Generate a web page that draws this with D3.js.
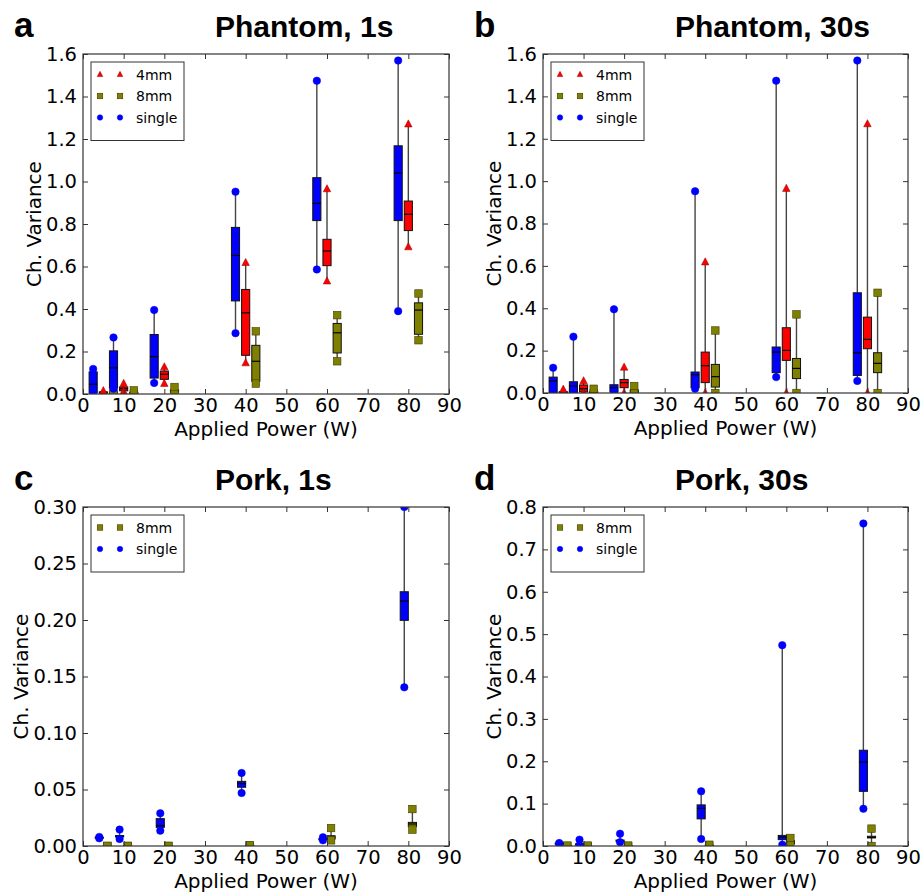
<!DOCTYPE html>
<html>
<head>
<meta charset="utf-8">
<script src="https://cdn.jsdelivr.net/npm/d3@7"></script>
<style>
  html, body { margin: 0; padding: 0; background: #fff; }
  svg { display: block; }
</style>
</head>
<body>
<svg id="chart" width="921" height="892"></svg>
<script>
// ---------------- DATA ----------------
// Each entry: [min, q1, median, q3, max] per applied power
const powers = [5, 10, 20, 40, 60, 80];
const xTicks = [0, 10, 20, 30, 40, 50, 60, 70, 80, 90];

// Panel a: Phantom, 1s
const phantom1s_4mm = [
  [0.002, 0.004, 0.008, 0.010, 0.015],
  [0.012, 0.015, 0.025, 0.033, 0.049],
  [0.049, 0.069, 0.093, 0.108, 0.127],
  [0.146, 0.182, 0.382, 0.492, 0.618],
  [0.531, 0.604, 0.673, 0.728, 0.965],
  [0.692, 0.769, 0.846, 0.908, 1.270]
];
const phantom1s_8mm = [
  [0.001, 0.003, 0.006, 0.009, 0.012],
  [0.001, 0.002, 0.005, 0.008, 0.017],
  [0.004, 0.008, 0.017, 0.020, 0.033],
  [0.049, 0.060, 0.154, 0.229, 0.295],
  [0.154, 0.193, 0.288, 0.332, 0.371],
  [0.253, 0.281, 0.395, 0.429, 0.473]
];
const phantom1s_single = [
  [0.004, 0.006, 0.046, 0.104, 0.118],
  [0.025, 0.030, 0.123, 0.203, 0.266],
  [0.052, 0.075, 0.176, 0.280, 0.395],
  [0.286, 0.438, 0.652, 0.784, 0.952],
  [0.586, 0.816, 0.897, 1.018, 1.474],
  [0.390, 0.816, 1.040, 1.168, 1.569]
];

// Panel b: Phantom, 30s
const phantom30s_4mm = [
  [0.000, 0.002, 0.004, 0.006, 0.017],
  [0.000, 0.005, 0.020, 0.038, 0.057],
  [0.000, 0.025, 0.049, 0.064, 0.121],
  [0.000, 0.049, 0.129, 0.193, 0.618],
  [0.000, 0.154, 0.201, 0.308, 0.965],
  [0.000, 0.209, 0.253, 0.358, 1.270]
];
const phantom30s_8mm = [
  [0.000, 0.002, 0.005, 0.010, 0.020],
  [0.000, 0.001, 0.003, 0.006, 0.020],
  [0.000, 0.002, 0.008, 0.014, 0.033],
  [0.000, 0.028, 0.077, 0.135, 0.295],
  [0.000, 0.068, 0.116, 0.163, 0.371],
  [0.000, 0.096, 0.140, 0.190, 0.473]
];
const phantom30s_single = [
  [0.000, 0.002, 0.057, 0.075, 0.119],
  [0.000, 0.008, 0.033, 0.053, 0.266],
  [0.000, 0.005, 0.025, 0.039, 0.395],
  [0.020, 0.025, 0.086, 0.099, 0.952],
  [0.075, 0.096, 0.193, 0.217, 1.474],
  [0.057, 0.083, 0.190, 0.473, 1.569]
];

// Panel c: Pork, 1s
const pork1s_8mm = [
  [0.0000, 0.0000, 0.0000, 0.0001, 0.0002],
  [0.0000, 0.0000, 0.0000, 0.0001, 0.0002],
  [0.0000, 0.0000, 0.0000, 0.0001, 0.0002],
  [0.0002, 0.0003, 0.0005, 0.0006, 0.0008],
  [0.0050, 0.0062, 0.0077, 0.0091, 0.0159],
  [0.0145, 0.0171, 0.0195, 0.0209, 0.0327]
];
const pork1s_single = [
  [0.0068, 0.0070, 0.0074, 0.0078, 0.0080],
  [0.0062, 0.0080, 0.0086, 0.0092, 0.0145],
  [0.0136, 0.0165, 0.0180, 0.0242, 0.0289],
  [0.0469, 0.0520, 0.0552, 0.0572, 0.0646],
  [0.0050, 0.0055, 0.0060, 0.0065, 0.0077],
  [0.1404, 0.1997, 0.2168, 0.2250, 0.3000]
];

// Panel d: Pork, 30s
const pork30s_8mm = [
  [0.0000, 0.0000, 0.0000, 0.0010, 0.0010],
  [0.0000, 0.0000, 0.0000, 0.0010, 0.0010],
  [0.0000, 0.0000, 0.0000, 0.0010, 0.0010],
  [0.0005, 0.0010, 0.0015, 0.0020, 0.0030],
  [0.0030, 0.0050, 0.0090, 0.0130, 0.0190],
  [0.0000, 0.0190, 0.0205, 0.0230, 0.0410]
];
const pork30s_single = [
  [0.0050, 0.0055, 0.0060, 0.0065, 0.0070],
  [0.0010, 0.0030, 0.0040, 0.0050, 0.0150],
  [0.0090, 0.0110, 0.0125, 0.0140, 0.0290],
  [0.0165, 0.0640, 0.0890, 0.0970, 0.1290],
  [0.0030, 0.0150, 0.0210, 0.0250, 0.4740],
  [0.0880, 0.1290, 0.1980, 0.2260, 0.7610]
];

const yTicksPhantom = [0, 0.2, 0.4, 0.6, 0.8, 1.0, 1.2, 1.4, 1.6];
const yTicksPork1s = [0, 0.05, 0.10, 0.15, 0.20, 0.25, 0.30];
const yTicksPork30s = [0, 0.1, 0.2, 0.3, 0.4, 0.5, 0.6, 0.7, 0.8];

// ---------------- STYLE / LAYOUT ----------------
const styles = {
  "4mm":   { color: "#ff0000", edge: "#8b0000", shape: "triangle" },
  "8mm":   { color: "#808000", edge: "#3a3a00", shape: "square" },
  "single":{ color: "#0000ff", edge: "#0000b0", shape: "circle" }
};

const panels = [
  { letter: "a", title: "Phantom, 1s", left: 83, top: 54, right: 449, bottom: 394,
    ymax: 1.6, yTicks: yTicksPhantom, fmt: ".1f", ylabOff: 42, offsets: [-2.5, 0, 2.5],
    series: [["4mm", phantom1s_4mm], ["8mm", phantom1s_8mm], ["single", phantom1s_single]] },
  { letter: "b", title: "Phantom, 30s", left: 543, top: 54, right: 908, bottom: 393,
    ymax: 1.6, yTicks: yTicksPhantom, fmt: ".1f", ylabOff: 42, offsets: [-2.5, 0, 2.5],
    series: [["4mm", phantom30s_4mm], ["8mm", phantom30s_8mm], ["single", phantom30s_single]] },
  { letter: "c", title: "Pork, 1s", left: 83, top: 507, right: 449, bottom: 846,
    ymax: 0.30, yTicks: yTicksPork1s, fmt: ".2f", ylabOff: 55, offsets: [-1, 1],
    series: [["8mm", pork1s_8mm], ["single", pork1s_single]] },
  { letter: "d", title: "Pork, 30s", left: 543, top: 507, right: 908, bottom: 846,
    ymax: 0.8, yTicks: yTicksPork30s, fmt: ".1f", ylabOff: 42, offsets: [-1, 1],
    series: [["8mm", pork30s_8mm], ["single", pork30s_single]] }
];

// Position offsets: single is always the leftmost box in a group
function offsetFor(p, name) {
  const order = p.series.length === 3 ? ["single", "4mm", "8mm"] : ["single", "8mm"];
  return p.offsets[order.indexOf(name)];
}

const svg = d3.select("#chart");
const tickFont = "DejaVu Sans, sans-serif";

function drawMarker(g, shape, cx, cy, size, st) {
  if (shape === "circle") {
    g.append("circle").attr("cx", cx).attr("cy", cy).attr("r", size / 2)
      .attr("fill", st.color).attr("stroke", st.color).attr("stroke-width", 0.5);
  } else if (shape === "square") {
    g.append("rect").attr("x", cx - size / 2).attr("y", cy - size / 2)
      .attr("width", size).attr("height", size)
      .attr("fill", st.color).attr("stroke", st.edge).attr("stroke-width", 0.6);
  } else {
    const h = size * 0.95, w = size;
    g.append("path")
      .attr("d", `M${cx},${cy - h * 0.6}L${cx + w / 2},${cy + h * 0.4}L${cx - w / 2},${cy + h * 0.4}Z`)
      .attr("fill", st.color).attr("stroke", st.edge).attr("stroke-width", 0.5);
  }
}

panels.forEach((p, pi) => {
  const x = d3.scaleLinear().domain([0, 90]).range([p.left, p.right]);
  const y = d3.scaleLinear().domain([0, p.ymax]).range([p.bottom, p.top]);
  const g = svg.append("g");

  // clip
  const clipId = "clip" + pi;
  svg.append("clipPath").attr("id", clipId).append("rect")
    .attr("x", p.left).attr("y", p.top)
    .attr("width", p.right - p.left).attr("height", p.bottom - p.top);

  const plot = g.append("g").attr("clip-path", `url(#${clipId})`);
  const boxW = x(2) - x(0);

  p.series.forEach(([name, vals]) => {
    const st = styles[name];
    const off = offsetFor(p, name);
    vals.forEach((v, i) => {
      const cx = x(powers[i] + off);
      const [mn, q1, md, q3, mx] = v;
      // whiskers
      plot.append("line").attr("x1", cx).attr("x2", cx).attr("y1", y(mn)).attr("y2", y(q1))
        .attr("stroke", "#444").attr("stroke-width", 1.4);
      plot.append("line").attr("x1", cx).attr("x2", cx).attr("y1", y(q3)).attr("y2", y(mx))
        .attr("stroke", "#444").attr("stroke-width", 1.4);
      // box
      plot.append("rect").attr("x", cx - boxW / 2).attr("y", y(q3))
        .attr("width", boxW).attr("height", Math.max(y(q1) - y(q3), 1))
        .attr("fill", st.color).attr("stroke", "#111").attr("stroke-width", 1);
      // median
      plot.append("line").attr("x1", cx - boxW / 2).attr("x2", cx + boxW / 2)
        .attr("y1", y(md)).attr("y2", y(md)).attr("stroke", "#000").attr("stroke-width", 1.2);
      // extreme markers
      drawMarker(plot, st.shape, cx, y(mn), 7.5, st);
      drawMarker(plot, st.shape, cx, y(mx), 7.5, st);
    });
  });

  // frame
  g.append("rect").attr("x", p.left).attr("y", p.top)
    .attr("width", p.right - p.left).attr("height", p.bottom - p.top)
    .attr("fill", "none").attr("stroke", "#333").attr("stroke-width", 1.2);

  // axes (ticks inside, all four sides)
  const fmt = d3.format(p.fmt);
  const xb = g.append("g").attr("transform", `translate(0,${p.bottom})`)
    .call(d3.axisBottom(x).tickValues(xTicks).tickSizeInner(-5).tickSizeOuter(0).tickPadding(4).tickFormat(d3.format("d")));
  const xt = g.append("g").attr("transform", `translate(0,${p.top})`)
    .call(d3.axisTop(x).tickValues(xTicks).tickSizeInner(-5).tickSizeOuter(0).tickFormat(""));
  const yl = g.append("g").attr("transform", `translate(${p.left},0)`)
    .call(d3.axisLeft(y).tickValues(p.yTicks).tickSizeInner(-5).tickSizeOuter(0).tickPadding(6).tickFormat(fmt));
  const yr = g.append("g").attr("transform", `translate(${p.right},0)`)
    .call(d3.axisRight(y).tickValues(p.yTicks).tickSizeInner(-5).tickSizeOuter(0).tickFormat(""));
  [xb, xt, yl, yr].forEach(a => {
    a.select(".domain").remove();
    a.selectAll(".tick line").attr("stroke", "#333");
    a.selectAll("text").attr("font-family", tickFont).attr("font-size", 19.5).attr("fill", "#000");
  });

  // axis labels
  g.append("text").attr("x", (p.left + p.right) / 2).attr("y", p.bottom + 42)
    .attr("text-anchor", "middle").attr("font-family", tickFont).attr("font-size", 20)
    .text("Applied Power (W)");
  g.append("text")
    .attr("transform", `translate(${p.left - p.ylabOff},${(p.top + p.bottom) / 2}) rotate(-90)`)
    .attr("text-anchor", "middle").attr("font-family", tickFont).attr("font-size", 20)
    .text("Ch. Variance");

  // title and panel letter
  g.append("text").attr("x", p.left + 132).attr("y", p.top - 17)
    .attr("font-family", "Liberation Sans, Arial, sans-serif").attr("font-weight", "bold")
    .attr("font-size", 30).text(p.title);
  g.append("text").attr("x", p.left - 69).attr("y", p.top - 17)
    .attr("font-family", "Liberation Sans, Arial, sans-serif").attr("font-weight", "bold")
    .attr("font-size", 35).text(p.letter);

  // legend
  const legOrder = p.series.map(s => s[0]);
  const rowH = 21.5;
  const lg = g.append("g").attr("transform", `translate(${p.left + 8},${p.top + 8})`);
  lg.append("rect").attr("x", 0).attr("y", 0).attr("width", 93)
    .attr("height", 12 + rowH * legOrder.length + 2)
    .attr("fill", "#fff").attr("stroke", "#333").attr("stroke-width", 1);
  legOrder.forEach((name, k) => {
    const st = styles[name];
    const cy = 12.5 + rowH * k;
    drawMarker(lg, st.shape, 9, cy, 5.5, st);
    drawMarker(lg, st.shape, 29, cy, 5.5, st);
    lg.append("text").attr("x", 45).attr("y", cy + 5).attr("font-family", tickFont)
      .attr("font-size", 14).text(name);
  });
});
</script>
</body>
</html>
